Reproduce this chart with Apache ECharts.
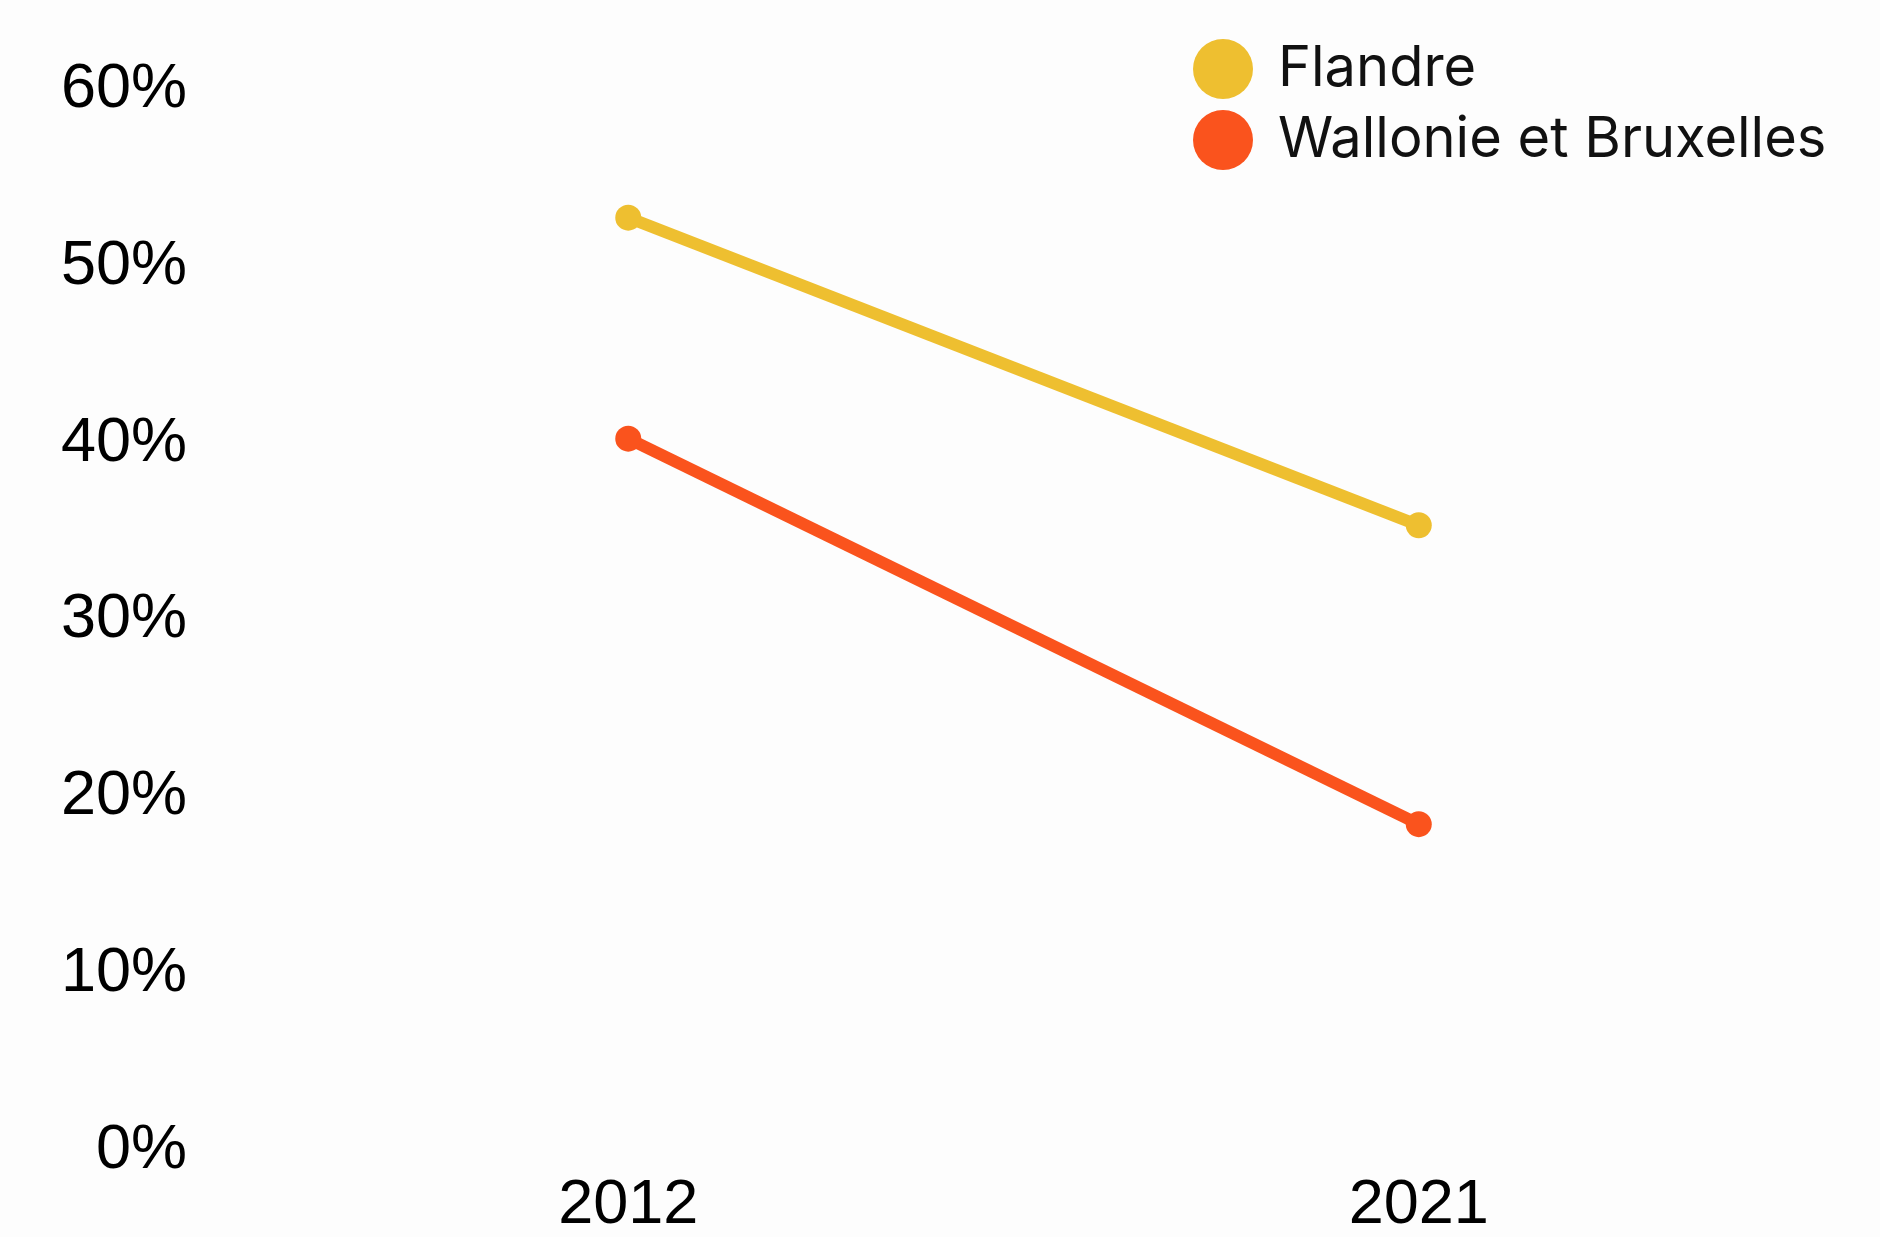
<!DOCTYPE html>
<html>
<head>
<meta charset="utf-8">
<script src="https://cdn.jsdelivr.net/npm/echarts@6/dist/echarts.min.js"></script>
<style>
html,body{margin:0;padding:0;background:#fdfdfd;}
#chart{width:1880px;height:1237px;}
</style>
</head>
<body>
<div id="chart"></div>
<script>
const years = ['2012', '2021'];
const flandre = [52.5, 35.1];
const wallonieBruxelles = [40.0, 18.2];
const seriesNames = ['Flandre', 'Wallonie et Bruxelles'];
const yTicks = [0, 10, 20, 30, 40, 50, 60];

const chart = echarts.init(document.getElementById('chart'));
chart.setOption({
  backgroundColor: '#fdfdfd',
  animation: false,
  legend: {
    orient: 'vertical',
    left: 1188,
    top: 34,
    icon: 'circle',
    itemWidth: 60,
    itemHeight: 60,
    itemGap: 11,
    textStyle: {
      fontFamily: 'Inter',
      fontSize: 56,
      color: '#111111',
      padding: [0, 0, 0, 20]
    },
    data: seriesNames
  },
  grid: {
    left: 233,
    right: 66,
    top: 85,
    bottom: 85
  },
  xAxis: {
    type: 'category',
    data: years,
    boundaryGap: true,
    axisLine: {show: false},
    axisTick: {show: false},
    splitLine: {show: false},
    axisLabel: {
      margin: 28,
      fontFamily: 'Liberation Sans',
      fontSize: 63,
      color: '#000000'
    }
  },
  yAxis: {
    type: 'value',
    min: yTicks[0],
    max: yTicks[yTicks.length - 1],
    interval: 10,
    axisLine: {show: false},
    axisTick: {show: false},
    splitLine: {show: false},
    axisLabel: {
      margin: 46,
      color: '#000000',
      formatter: function (v) { return '{a|' + v + '%}'; },
      rich: {
        a: {
          fontFamily: 'Liberation Sans',
          fontSize: 63,
          color: '#000000',
          padding: [9, 0, 0, 0]
        }
      }
    }
  },
  series: [
    {
      name: seriesNames[0],
      type: 'line',
      data: flandre,
      symbol: 'circle',
      symbolSize: 26,
      color: '#EEBF30',
      lineStyle: {width: 12, color: '#EEBF30'},
      itemStyle: {color: '#EEBF30'}
    },
    {
      name: seriesNames[1],
      type: 'line',
      data: wallonieBruxelles,
      symbol: 'circle',
      symbolSize: 26,
      color: '#FA531D',
      lineStyle: {width: 12, color: '#FA531D'},
      itemStyle: {color: '#FA531D'}
    }
  ]
});
</script>
</body>
</html>
